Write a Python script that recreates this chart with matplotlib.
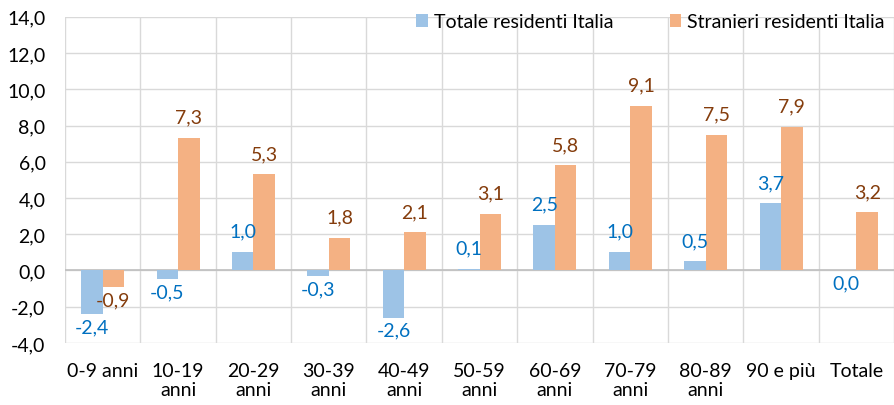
import matplotlib
matplotlib.use("Agg")
import matplotlib.pyplot as plt
import numpy as np

# age classes and % changes
categories = ["0-9 anni", "10-19\nanni", "20-29\nanni", "30-39\nanni", "40-49\nanni",
              "50-59\nanni", "60-69\nanni", "70-79\nanni", "80-89\nanni", "90 e più", "Totale"]
totale = [-2.4, -0.5, 1.0, -0.3, -2.6, 0.1, 2.5, 1.0, 0.5, 3.7, 0.0]
stranieri = [-0.9, 7.3, 5.3, 1.8, 2.1, 3.1, 5.8, 9.1, 7.5, 7.9, 3.2]
yticks = [-4, -2, 0, 2, 4, 6, 8, 10, 12, 14]

plt.rcParams['font.family'] = ['Lato', 'DejaVu Sans']
FS = 14

fig = plt.figure(figsize=(8.95, 4.06), dpi=100)
ax = fig.add_axes([0.0726, 0.153, 0.9264, 0.803])

x = np.arange(len(categories))
w = 0.285
b1 = ax.bar(x - w / 2, totale, w, color='#9DC3E6', label='Totale residenti Italia', zorder=3)
b2 = ax.bar(x + w / 2, stranieri, w, color='#F4B183', label='Stranieri residenti Italia', zorder=3)

def fmt(v):
    return f"{v:.1f}".replace('.', ',')

for bars, vals, col in [(b1, totale, '#0070C0'), (b2, stranieri, '#843C0C')]:
    for r, v in zip(bars, vals):
        cx = r.get_x() + r.get_width() / 2
        if v > 0:
            ax.annotate(fmt(v), (cx, v), xytext=(0, 9), textcoords='offset points',
                        ha='center', va='bottom', color=col, fontsize=FS, zorder=4)
        else:
            ax.annotate(fmt(v), (cx, v), xytext=(0, -3), textcoords='offset points',
                        ha='center', va='top', color=col, fontsize=FS, zorder=4)

ax.set_xlim(-0.5, len(categories) - 0.5)
ax.set_ylim(-4, 14)
ax.set_yticks(yticks)
ax.set_yticklabels([fmt(v) for v in yticks], fontsize=FS)
ax.set_xticks(x)
ax.set_xticklabels(categories, fontsize=FS, linespacing=1.15, va='top')
ax.set_xticks(np.arange(len(categories) + 1) - 0.5, minor=True)
ax.tick_params(axis='both', which='both', length=0)
ax.tick_params(axis='y', pad=14)
ax.tick_params(axis='x', pad=14)
ax.grid(axis='y', color='#D9D9D9', linewidth=1, zorder=0)
ax.grid(axis='x', which='minor', color='#D9D9D9', linewidth=1, zorder=0)
ax.axhline(0, color='#BFBFBF', linewidth=1.2, zorder=2)
for s in ax.spines.values():
    s.set_visible(False)

ax.legend(loc='upper right', bbox_to_anchor=(0.998, 1.035), ncol=2, frameon=False,
          fontsize=FS, handlelength=0.6, handleheight=0.6, handletextpad=0.3,
          columnspacing=2.9, borderaxespad=0)

fig.savefig('out.png', dpi=100)
